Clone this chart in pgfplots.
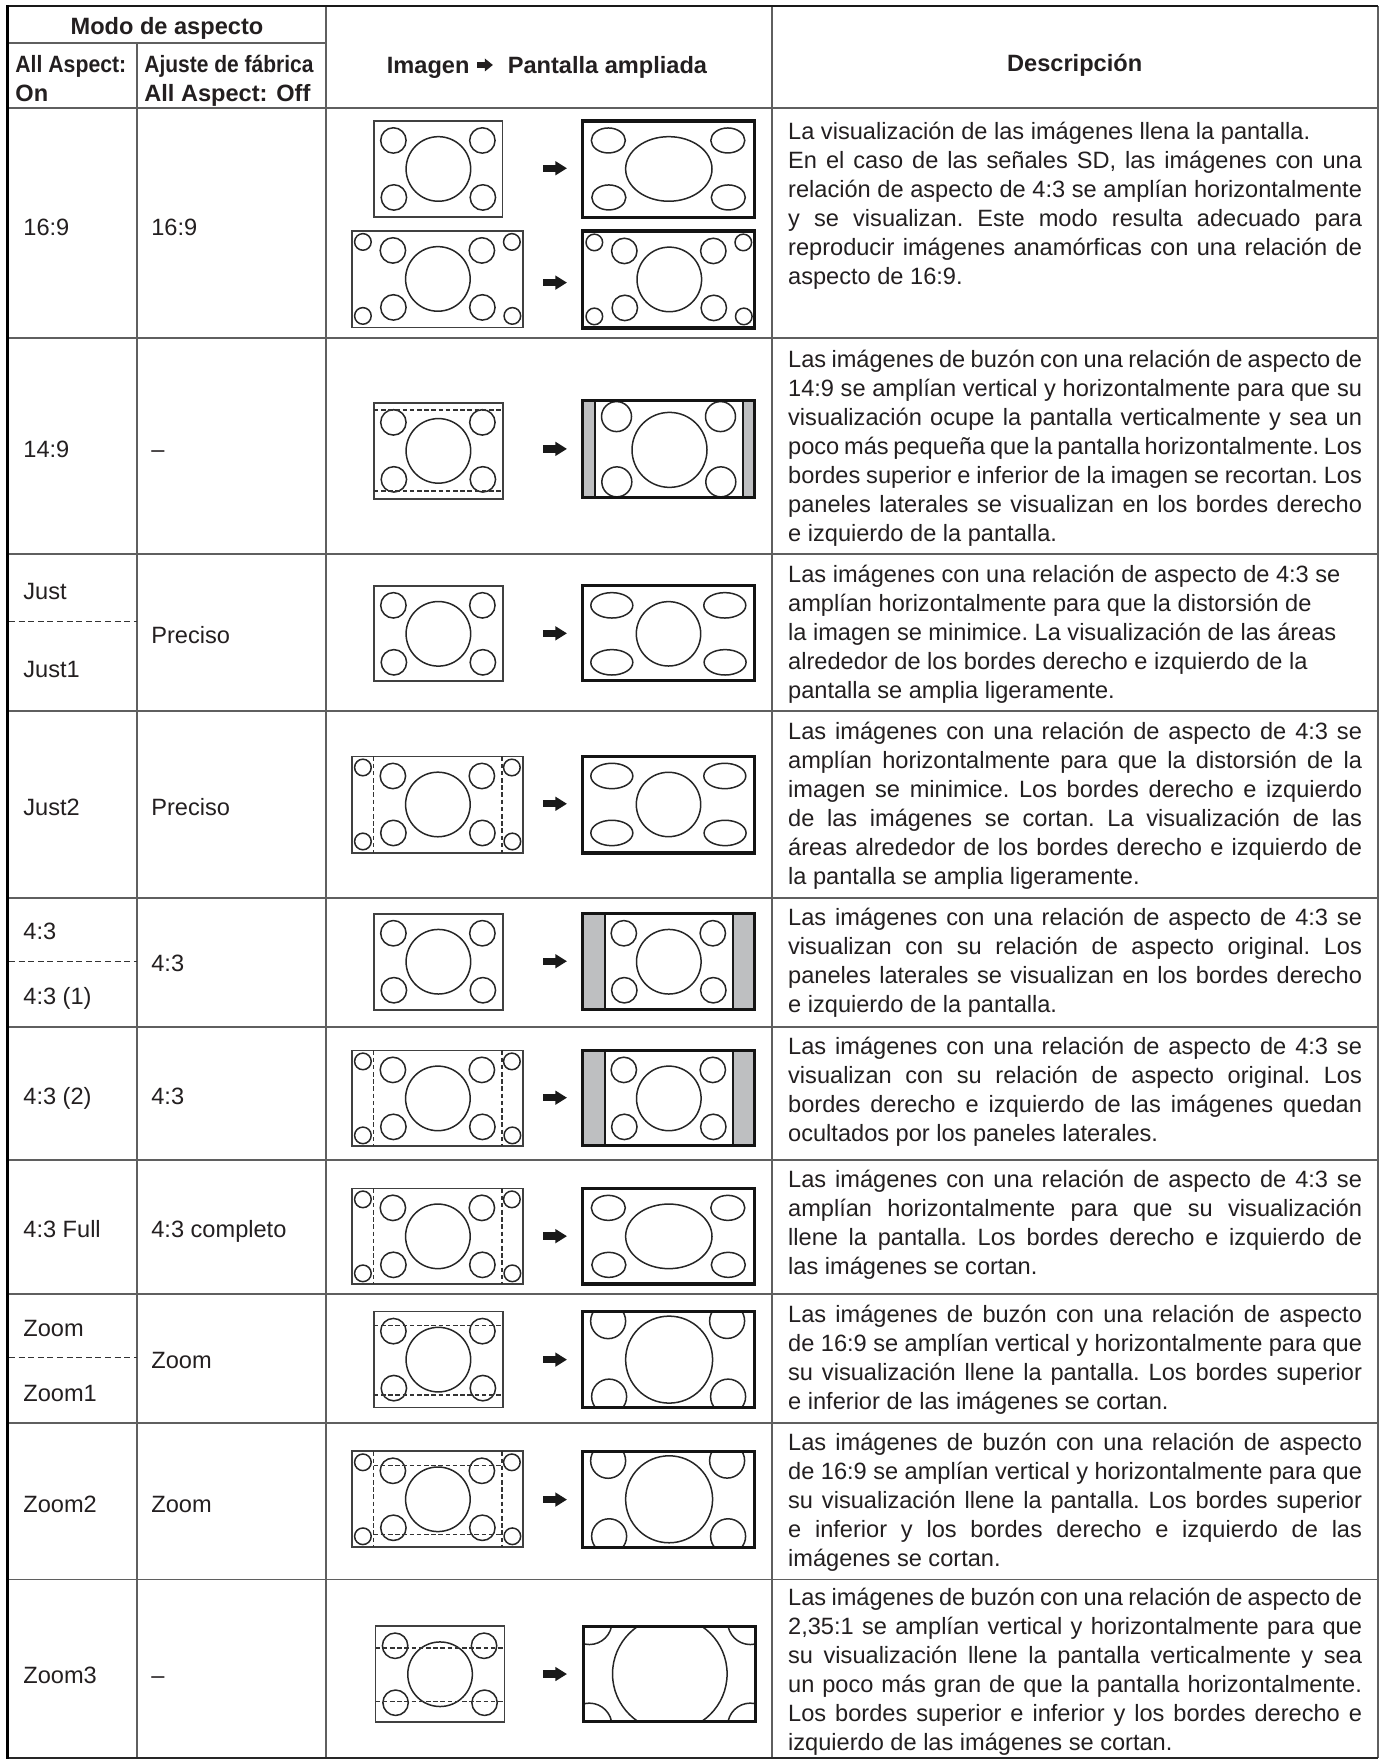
\documentclass[border=0pt]{standalone}
\usepackage{fontspec}
\setmainfont{Liberation Sans}
\usepackage{graphicx}
\usepackage{pgfplots}
\pgfplotsset{compat=1.18}
\definecolor{panel}{RGB}{190,191,193}
\definecolor{gridc}{RGB}{95,95,95}
\definecolor{ink}{RGB}{35,31,32}
\newcommand\fs{\fontsize{11.8pt}{14.45pt}\selectfont}
\newcommand\Jl[1]{\makebox[\linewidth][s]{#1}\par}
\newcommand\El[1]{#1\par}
\newcommand\desc[2]{\node[anchor=base west,inner sep=0pt,text=ink] at (axis cs:788,#1) {\parbox[t]{287pt}{\fs\frenchspacing\spaceskip=0.278em plus 0.6em minus 0.14em\relax #2}};}
\newcommand\lab[3]{\node[anchor=base west,inner sep=0pt,font=\fs,text=ink] at (axis cs:#1,#2) {#3};}
\tikzset{circ/.style={line width=0.75pt,draw=black!85},
  lbox/.style={line width=0.85pt,draw=black!75},
  rbox/.style={line width=1.6pt,draw=black!92},
  dsh/.style={line width=0.7pt,draw=black!80,dash pattern=on 2.3pt off 1.3pt},
  thinl/.style={line width=0.75pt,draw=black!90}}
\newcommand\fourthree[2]{%
 \draw[circ] (axis cs:#1+19.5,#2+19.5) circle[radius=12.7];
 \draw[circ] (axis cs:#1+108.5,#2+19.5) circle[radius=12.7];
 \draw[circ] (axis cs:#1+20,#2+76.5) circle[radius=12.7];
 \draw[circ] (axis cs:#1+109,#2+76.5) circle[radius=12.7];
 \draw[circ] (axis cs:#1+64.5,#2+48) circle[radius=32.3];}
\newcommand\sixnine[2]{%
 \draw[circ] (axis cs:#1+11,#2+11) circle[radius=8.3];
 \draw[circ] (axis cs:#1+160,#2+11) circle[radius=8.3];
 \draw[circ] (axis cs:#1+11,#2+85) circle[radius=8.3];
 \draw[circ] (axis cs:#1+160.5,#2+85) circle[radius=8.3];
 \fourthree{#1+21.5}{#2}}
\newcommand\fullright[2]{%
 \draw[circ] (axis cs:#1+25.5,#2+19.5) ellipse[x radius=17,y radius=12.5];
 \draw[circ] (axis cs:#1+145,#2+19.5) ellipse[x radius=17,y radius=12.5];
 \draw[circ] (axis cs:#1+26,#2+76.5) ellipse[x radius=17,y radius=12.5];
 \draw[circ] (axis cs:#1+145.5,#2+76.5) ellipse[x radius=17,y radius=12.5];
 \draw[circ] (axis cs:#1+86,#2+48) ellipse[x radius=43.2,y radius=32.3];}
\newcommand\justright[2]{%
 \draw[circ] (axis cs:#1+29,#2+19.5) ellipse[x radius=21,y radius=12.7];
 \draw[circ] (axis cs:#1+142,#2+19.5) ellipse[x radius=21,y radius=12.7];
 \draw[circ] (axis cs:#1+29,#2+76.5) ellipse[x radius=21,y radius=12.7];
 \draw[circ] (axis cs:#1+142.3,#2+76.5) ellipse[x radius=21,y radius=12.7];
 \draw[circ] (axis cs:#1+85.7,#2+48) circle[radius=32.2];}
\newcommand\zoomright[2]{%
 \begin{scope}
 \clip (axis cs:#1,#2) rectangle (axis cs:#1+172,#2+96);
 \draw[circ] (axis cs:#1+25.3,#2+9.5) circle[radius=17.5];
 \draw[circ] (axis cs:#1+144.3,#2+9.3) circle[radius=17.5];
 \draw[circ] (axis cs:#1+26.3,#2+85) circle[radius=17.5];
 \draw[circ] (axis cs:#1+145.3,#2+85) circle[radius=17.5];
 \draw[circ] (axis cs:#1+86.3,#2+48) circle[radius=43.5];
 \end{scope}}
\newcommand\panels[4]{%
 \fill[panel] (axis cs:#1,#2) rectangle (axis cs:#1+#3,#4);
 \fill[panel] (axis cs:#1+172-#3,#2) rectangle (axis cs:#1+172,#4);
 \draw[thinl] (axis cs:#1+#3,#2) -- (axis cs:#1+#3,#4);
 \draw[thinl] (axis cs:#1+172-#3,#2) -- (axis cs:#1+172-#3,#4);}
\newcommand\lbox[4]{\draw[lbox] (axis cs:#1,#2) rectangle (axis cs:#3,#4);}
\newcommand\rbox[4]{\draw[rbox] (axis cs:#1,#2) rectangle (axis cs:#3,#4);}
\newcommand\arr[1]{%
 \fill[black!90] (axis cs:543,#1-3.7) rectangle (axis cs:557,#1+3.7);
 \fill[black!90] (axis cs:555.5,#1-7.2) -- (axis cs:567,#1) -- (axis cs:555.5,#1+7.2) -- cycle;}
\newcommand\hl[2]{\addplot[gridc,line width=0.9pt,forget plot] coordinates {(8,#1) (1378,#1)};}
\begin{document}
\begin{tikzpicture}
\begin{axis}[scale only axis, width=690.5pt, height=880pt,
  xmin=0, xmax=1381, ymin=0, ymax=1760, y dir=reverse,
  hide axis, clip=false]
\path (axis cs:0,0) rectangle (axis cs:1381,1760);
% ---------- grid ----------
\addplot[gridc,line width=0.9pt,forget plot] coordinates {(8,43) (326,43)};
\hl{108}{}\hl{338}{}\hl{554}{}\hl{711}{}\hl{898}{}\hl{1027}{}\hl{1160}{}\hl{1294}{}\hl{1423}{}\hl{1580}{}
\addplot[gridc,line width=0.9pt,forget plot] coordinates {(137,43) (137,1758.5)};
\addplot[gridc,line width=0.9pt,forget plot] coordinates {(326,6) (326,1758.5)};
\addplot[gridc,line width=0.9pt,forget plot] coordinates {(772,6) (772,1758.5)};
\addplot[gridc,line width=1.1pt,forget plot] coordinates {(1378,6) (1378,1758.5)};
\addplot[black!85,line width=1.0pt,forget plot] coordinates {(8,1758.5) (1378,1758.5)};
\addplot[black!90,line width=1.3pt,forget plot] coordinates {(8,6) (1378,6)};
\addplot[black,line width=1.5pt,forget plot] coordinates {(8,5.5) (8,1759)};
\addplot[black!80,line width=0.6pt,dash pattern=on 3pt off 1.8pt,forget plot] coordinates {(9,622) (137,622)};
\addplot[black!80,line width=0.6pt,dash pattern=on 3pt off 1.8pt,forget plot] coordinates {(9,962) (137,962)};
\addplot[black!80,line width=0.6pt,dash pattern=on 3pt off 1.8pt,forget plot] coordinates {(9,1358) (137,1358)};
% ---------- header ----------
\node[anchor=base,inner sep=0pt,font=\fs\bfseries,text=ink] at (axis cs:167,34.6) {Modo de aspecto};
\node[anchor=base west,inner sep=0pt,font=\fs\bfseries,text=ink] at (axis cs:15,72.6) {\scalebox{0.9}[1]{All Aspect:}};
\node[anchor=base west,inner sep=0pt,font=\fs\bfseries,text=ink] at (axis cs:15,101.6) {On};
\node[anchor=base west,inner sep=0pt,font=\fs\bfseries,text=ink] at (axis cs:144,72.6) {\scalebox{0.89}[1]{Ajuste de fábrica}};
\node[anchor=base west,inner sep=0pt,font=\fs\bfseries,text=ink] at (axis cs:144,101.6) {All Aspect: Off};
\node[anchor=base east,inner sep=0pt,font=\fs\bfseries,text=ink] at (axis cs:470,73.6) {Imagen};
\fill[ink] (axis cs:477,62) rectangle (axis cs:486,68);
\fill[ink] (axis cs:485,58.5) -- (axis cs:493,65) -- (axis cs:485,71.5) -- cycle;
\node[anchor=base west,inner sep=0pt,font=\fs\bfseries,text=ink] at (axis cs:507.5,73.6) {Pantalla ampliada};
\node[anchor=base,inner sep=0pt,font=\fs\bfseries,text=ink] at (axis cs:1075,71.6) {Descripción};
% ---------- left columns ----------
\lab{23}{235.6}{16:9}\lab{151}{235.6}{16:9}
\lab{23}{457.6}{14:9}\lab{151}{457.6}{–}
\lab{23}{599.6}{Just}\lab{151}{643.6}{Preciso}\lab{23}{677.6}{Just1}
\lab{23}{815.6}{Just2}\lab{151}{815.6}{Preciso}
\lab{23}{939.6}{4:3}\lab{151}{971.6}{4:3}\lab{23}{1004.6}{4:3 (1)}
\lab{23}{1104.6}{4:3 (2)}\lab{151}{1104.6}{4:3}
\lab{23}{1237.6}{4:3 Full}\lab{151}{1237.6}{4:3 completo}
\lab{23}{1336.6}{Zoom}\lab{151}{1368.6}{Zoom}\lab{23}{1401.6}{Zoom1}
\lab{23}{1512.6}{Zoom2}\lab{151}{1512.6}{Zoom}
\lab{23}{1683.6}{Zoom3}\lab{151}{1683.6}{–}
% ---------- diagrams ----------
% R1 16:9
\fourthree{374}{121}\lbox{374}{121}{502.5}{217.3}
\fullright{583}{121}\rbox{583}{121}{755}{217.5}
\arr{168.3}
\sixnine{352}{231}\lbox{352}{231}{523.4}{327.7}
\sixnine{583.5}{231.5}\rbox{583}{231}{755}{328}
\arr{282.7}
% R2 14:9
\fourthree{374}{403}\lbox{374}{403}{503}{499}
\draw[dsh] (axis cs:374,410) -- (axis cs:503,410);
\draw[dsh] (axis cs:374,491) -- (axis cs:503,491);
\panels{583}{401}{12}{497.5}
\begin{scope}
\clip (axis cs:595,401) rectangle (axis cs:743,497.5);
\draw[circ] (axis cs:616.7,416.7) circle[radius=15];
\draw[circ] (axis cs:720.7,416.7) circle[radius=15];
\draw[circ] (axis cs:617,482) circle[radius=15];
\draw[circ] (axis cs:721,482) circle[radius=15];
\draw[circ] (axis cs:669.7,450) circle[radius=37.5];
\end{scope}
\rbox{583}{401}{755}{497.5}
\arr{449}
% R3 Just
\fourthree{374}{586}\lbox{374}{586}{503}{681}
\justright{583}{586}\rbox{583}{586}{755}{681}
\arr{633.5}
% R4 Just2
\sixnine{352}{756.7}\lbox{352}{756.7}{523.3}{853}
\draw[dsh] (axis cs:373.7,756.7) -- (axis cs:373.7,853);
\draw[dsh] (axis cs:502,756.7) -- (axis cs:502,853);
\justright{583}{756.7}\rbox{583}{756.7}{755}{853.3}
\arr{804}
% R5 4:3
\fourthree{374}{914}\lbox{374}{914}{503}{1010.3}
\panels{583}{914}{22}{1010}
\fourthree{604.5}{914}\rbox{583}{914}{755}{1010}
\arr{961.5}
% R6 4:3 (2)
\sixnine{352}{1050.7}\lbox{352}{1050.7}{523.3}{1146}
\draw[dsh] (axis cs:373.7,1050.7) -- (axis cs:373.7,1146);
\draw[dsh] (axis cs:502,1050.7) -- (axis cs:502,1146);
\panels{583}{1050.7}{22}{1146}
\fourthree{604.5}{1050.7}\rbox{583}{1050.7}{755}{1146}
\arr{1098}
% R7 4:3 Full
\sixnine{352}{1188.7}\lbox{352}{1188.7}{523.3}{1284.3}
\draw[dsh] (axis cs:373.7,1188.7) -- (axis cs:373.7,1284.3);
\draw[dsh] (axis cs:502,1188.7) -- (axis cs:502,1284.3);
\fullright{583}{1188.7}\rbox{583}{1188.7}{755}{1284.3}
\arr{1236.5}
% R8 Zoom
\fourthree{374}{1312}\lbox{374}{1312}{503}{1408}
\draw[dsh] (axis cs:374,1326) -- (axis cs:503,1326);
\draw[dsh] (axis cs:374,1395.3) -- (axis cs:503,1395.3);
\zoomright{583}{1312}\rbox{583}{1312}{755}{1408}
\arr{1360}
% R9 Zoom2
\sixnine{352}{1451.7}\lbox{352}{1451.7}{523.3}{1547.7}
\draw[dsh] (axis cs:373.7,1451.7) -- (axis cs:373.7,1547.7);
\draw[dsh] (axis cs:502,1451.7) -- (axis cs:502,1547.7);
\draw[dsh] (axis cs:373.7,1466) -- (axis cs:502,1466);
\draw[dsh] (axis cs:373.7,1535) -- (axis cs:502,1535);
\zoomright{583}{1451.7}\rbox{583}{1451.7}{755}{1548}
\arr{1500}
% R10 Zoom3
\fourthree{375.7}{1626.7}\lbox{375.7}{1626.7}{504.7}{1722.3}
\draw[dsh] (axis cs:375.7,1648.3) -- (axis cs:504.7,1648.3);
\draw[dsh] (axis cs:375.7,1702) -- (axis cs:504.7,1702);
\begin{scope}
\clip (axis cs:583.3,1626.7) rectangle (axis cs:755.7,1722.3);
\draw[circ] (axis cs:670,1674.3) circle[radius=57.3];
\draw[circ] (axis cs:589.5,1622.4) circle[radius=22.6];
\draw[circ] (axis cs:750.5,1622.4) circle[radius=22.6];
\draw[circ] (axis cs:589.5,1726.2) circle[radius=22.6];
\draw[circ] (axis cs:750.5,1726.2) circle[radius=22.6];
\end{scope}
\rbox{583.3}{1626.7}{755.7}{1722.3}
\arr{1674.5}
% ---------- descriptions ----------
\desc{140}{\El{La visualización de las imágenes llena la pantalla.}
\Jl{En el caso de las señales SD, las imágenes con una}
\Jl{relación de aspecto de 4:3 se amplían horizontalmente}
\Jl{y se visualizan. Este modo resulta adecuado para}
\Jl{reproducir imágenes anamórficas con una relación de}
\El{aspecto de 16:9.}}
\desc{368}{\Jl{Las imágenes de buzón con una relación de aspecto de}
\Jl{14:9 se amplían vertical y horizontalmente para que su}
\Jl{visualización ocupe la pantalla verticalmente y sea un}
\Jl{poco más pequeña que la pantalla horizontalmente. Los}
\Jl{bordes superior e inferior de la imagen se recortan. Los}
\Jl{paneles laterales se visualizan en los bordes derecho}
\El{e izquierdo de la pantalla.}}
\desc{583}{\El{Las imágenes con una relación de aspecto de 4:3 se}
\El{amplían horizontalmente para que la distorsión de}
\El{la imagen se minimice. La visualización de las áreas}
\El{alrededor de los bordes derecho e izquierdo de la}
\El{pantalla se amplia ligeramente.}}
\desc{740}{\Jl{Las imágenes con una relación de aspecto de 4:3 se}
\Jl{amplían horizontalmente para que la distorsión de la}
\Jl{imagen se minimice. Los bordes derecho e izquierdo}
\Jl{de las imágenes se cortan. La visualización de las}
\Jl{áreas alrededor de los bordes derecho e izquierdo de}
\El{la pantalla se amplia ligeramente.}}
\desc{926}{\Jl{Las imágenes con una relación de aspecto de 4:3 se}
\Jl{visualizan con su relación de aspecto original. Los}
\Jl{paneles laterales se visualizan en los bordes derecho}
\El{e izquierdo de la pantalla.}}
\desc{1055}{\Jl{Las imágenes con una relación de aspecto de 4:3 se}
\Jl{visualizan con su relación de aspecto original. Los}
\Jl{bordes derecho e izquierdo de las imágenes quedan}
\El{ocultados por los paneles laterales.}}
\desc{1188}{\Jl{Las imágenes con una relación de aspecto de 4:3 se}
\Jl{amplían horizontalmente para que su visualización}
\Jl{llene la pantalla. Los bordes derecho e izquierdo de}
\El{las imágenes se cortan.}}
\desc{1323}{\Jl{Las imágenes de buzón con una relación de aspecto}
\Jl{de 16:9 se amplían vertical y horizontalmente para que}
\Jl{su visualización llene la pantalla. Los bordes superior}
\El{e inferior de las imágenes se cortan.}}
\desc{1451}{\Jl{Las imágenes de buzón con una relación de aspecto}
\Jl{de 16:9 se amplían vertical y horizontalmente para que}
\Jl{su visualización llene la pantalla. Los bordes superior}
\Jl{e inferior y los bordes derecho e izquierdo de las}
\El{imágenes se cortan.}}
\desc{1606}{\Jl{Las imágenes de buzón con una relación de aspecto de}
\Jl{2,35:1 se amplían vertical y horizontalmente para que}
\Jl{su visualización llene la pantalla verticalmente y sea}
\Jl{un poco más gran de que la pantalla horizontalmente.}
\Jl{Los bordes superior e inferior y los bordes derecho e}
\El{izquierdo de las imágenes se cortan.}}
\end{axis}
\end{tikzpicture}
\end{document}
